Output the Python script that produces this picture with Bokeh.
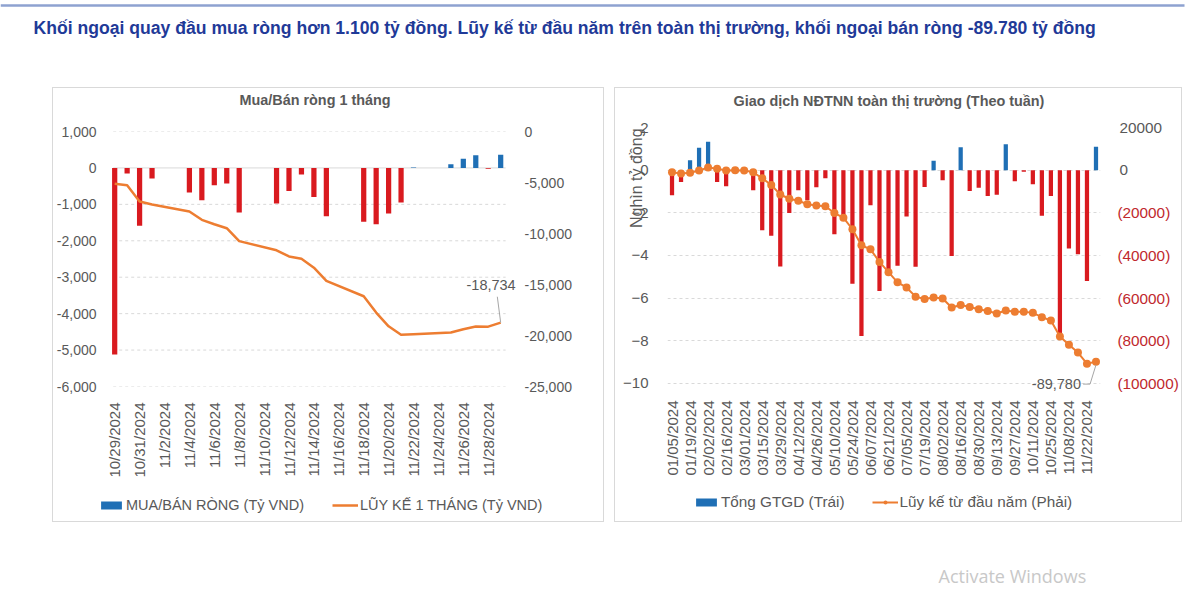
import math
import pandas as pd
from bokeh.plotting import figure
from bokeh.models import (ColumnDataSource, Range1d, LinearAxis, FixedTicker, NumeralTickFormatter,
                          CustomJSTickFormatter, Legend, LegendItem, Label, Spacer)
from bokeh.layouts import column, row
from bokeh.core.properties import value
from bokeh.embed import file_html
from bokeh.resources import INLINE

# ---------------- data ----------------
main_title = ("Khối ngoại quay đầu mua ròng hơn 1.100 tỷ đồng. Lũy kế từ đầu năm trên toàn thị trường, "
              "khối ngoại bán ròng -89.780 tỷ đồng")
watermark = "Activate Windows"

left_title = "Mua/Bán ròng 1 tháng"
left_dates = ["10/29/2024", "10/30/2024", "10/31/2024", "11/1/2024", "11/4/2024", "11/5/2024",
              "11/6/2024", "11/7/2024", "11/8/2024", "11/11/2024", "11/12/2024", "11/13/2024",
              "11/14/2024", "11/15/2024", "11/18/2024", "11/19/2024", "11/20/2024", "11/21/2024",
              "11/22/2024", "11/25/2024", "11/26/2024", "11/27/2024", "11/28/2024", "11/29/2024"]
left_net = [-5120, -150, -1590, -290, -675, -890, -475, -430, -1225, -975, -630, -180,
            -795, -1325, -1480, -1545, -1250, -950, 15, 100, 255, 345, -20, 365]
left_cum = [-5130, -5280, -6870, -7160, -7840, -8660, -9090, -9480, -10750, -11650, -12250, -12480,
            -13350, -14640, -16150, -17750, -19100, -19930, -19880, -19700, -19380, -19120, -19130, -18734]
left_ticks = ["10/29/2024", "10/31/2024", "11/2/2024", "11/4/2024", "11/6/2024", "11/8/2024",
              "11/10/2024", "11/12/2024", "11/14/2024", "11/16/2024", "11/18/2024", "11/20/2024",
              "11/22/2024", "11/24/2024", "11/26/2024", "11/28/2024"]
left_y_ticks = [1000, 0, -1000, -2000, -3000, -4000, -5000, -6000]
left_y2_ticks = [0, -5000, -10000, -15000, -20000, -25000]
left_legend = ["MUA/BÁN RÒNG (Tỷ VND)", "LŨY KẾ 1 THÁNG (Tỷ VND)"]

right_title = "Giao dịch NĐTNN toàn thị trường (Theo tuần)"
right_weeks = ["01/05/2024", "01/12/2024", "01/19/2024", "01/26/2024", "02/02/2024", "02/09/2024",
               "02/16/2024", "02/23/2024", "03/01/2024", "03/08/2024", "03/15/2024", "03/22/2024",
               "03/29/2024", "04/05/2024", "04/12/2024", "04/19/2024", "04/26/2024", "05/03/2024",
               "05/10/2024", "05/17/2024", "05/24/2024", "05/31/2024", "06/07/2024", "06/14/2024",
               "06/21/2024", "06/28/2024", "07/05/2024", "07/12/2024", "07/19/2024", "07/26/2024",
               "08/02/2024", "08/09/2024", "08/16/2024", "08/23/2024", "08/30/2024", "09/06/2024",
               "09/13/2024", "09/20/2024", "09/27/2024", "10/04/2024", "10/11/2024", "10/18/2024",
               "10/25/2024", "11/01/2024", "11/08/2024", "11/15/2024", "11/22/2024", "11/29/2024"]
right_net = [-1.18, -0.56, 0.47, 1.05, 1.33, -0.56, -0.75, 0.08, -0.05, -0.94, -2.82, -3.07,
             -4.52, -2.01, -0.94, -1.41, -0.80, -0.38, -3.00, -2.13, -5.33, -7.78, -1.65, -5.66,
             -4.63, -4.48, -2.17, -4.53, -0.79, 0.44, -0.47, -4.02, 1.07, -0.98, -0.83, -1.21,
             -1.15, 1.21, -0.52, -0.08, -0.66, -2.14, -1.21, -7.75, -3.67, -3.94, -5.20, 1.10]
right_cum = [-1000, -1600, -1200, -150, 1200, 700, -100, 0, -100, -1000, -3800, -6900,
             -11400, -13400, -14300, -16000, -16600, -16900, -20100, -22300, -27700, -35200, -37100, -43000,
             -47800, -52600, -55000, -59300, -60400, -59700, -60200, -64400, -63200, -64100, -65200, -66000,
             -67200, -65800, -66400, -66400, -66900, -68900, -70500, -78000, -81800, -85500, -90700, -89780]
right_ticks = right_weeks[::2]
right_y_ticks = [2, 0, -2, -4, -6, -8, -10]
right_y2_ticks = [20000, 0, -20000, -40000, -60000, -80000, -100000]
right_y_label = "Nghìn tỷ đồng"
right_legend = ["Tổng GTGD (Trái)", "Lũy kế từ đầu năm (Phải)"]

# ---------------- style ----------------
FONT = "Liberation Sans"
GREY = "#595959"
RED = "#D91A1F"
DARKRED = "#C0282D"
BLUE = "#1F6FB5"
ORANGE = "#ED7D31"
GRID = "#D9D9D9"
DAYMS = 86400000
BOX = {"border": "1px solid #D9D9D9"}

# chart boxes: widths and frame borders (all figures of one box share the borders)
W1, L_LEFT, L_RIGHT = 550, 42, 58
W2, R_LEFT, R_RIGHT = 566, 52, 78


def to_ms(ts):
    return ts.value / 1e6


def bare(width, height, xr=None, yr=None, bl=0, br=0):
    p = figure(width=width, height=height,
               x_range=xr if xr is not None else Range1d(0, width),
               y_range=yr if yr is not None else Range1d(height, 0),
               x_axis_location=None, y_axis_location=None, min_border=0,
               min_border_left=bl, min_border_right=br,
               output_backend="svg", toolbar_location=None)
    p.outline_line_color = None
    p.grid.grid_line_color = None
    return p


def style_axis(ax, size):
    ax.major_label_text_font = FONT
    ax.major_label_text_font_size = size
    ax.major_label_text_color = GREY
    ax.axis_line_color = None
    ax.major_tick_line_color = None
    ax.minor_tick_line_color = None


def title_fig(width, height, bl, br, text, cx, cy):
    t = bare(width, height, xr=Range1d(bl, width - br), bl=bl, br=br)
    t.text(x=[cx], y=[cy], text=[text], text_font=value(FONT), text_font_size="14.4px",
           text_font_style="bold", text_color=GREY, text_align="center", text_baseline="middle")
    return t


def make_legend(items, loc, spacing, size):
    return Legend(items=items, location=loc, orientation="horizontal", spacing=spacing,
                  padding=0, margin=0, glyph_width=26, glyph_height=10, label_height=16,
                  label_standoff=2, label_text_font=FONT, label_text_font_size=size,
                  label_text_color=GREY, border_line_color=None, background_fill_alpha=0)


# ---------------- header ----------------
ph = bare(1190, 87)
ph.line(x=[0, 1184], y=[5, 5], line_width=2.5, line_color="#8EA2D0")
ph.text(x=[33], y=[27], text=[main_title], text_font=value(FONT), text_font_size="17.6px",
        text_font_style="bold", text_color="#1F3A98", text_baseline="middle", text_align="left")

# ---------------- left chart ----------------
ld = pd.to_datetime(left_dates, format="%m/%d/%Y")
lsrc = ColumnDataSource(dict(x=ld, net=left_net, cum=left_cum,
                             color=[BLUE if v >= 0 else RED for v in left_net]))
lx0 = to_ms(ld[0]) - 1.3 * DAYMS
lx1 = to_ms(ld[-1]) + 3.6 * DAYMS
lgrid0 = to_ms(ld[0]) - 0.12 * DAYMS
lgrid1 = to_ms(ld[-1]) + 0.4 * DAYMS
p1 = figure(width=W1, height=368, x_axis_type="datetime",
            x_range=Range1d(lx0, lx1), y_range=Range1d(-6000, 1000),
            min_border_left=L_LEFT, min_border_right=L_RIGHT, min_border_top=10, min_border_bottom=103,
            output_backend="svg", toolbar_location=None)
p1.outline_line_color = None
p1.extra_y_ranges = {"cum": Range1d(-25000, 0)}
p1.grid.grid_line_color = None

gy = [t for t in left_y_ticks if t != 0]
p1.segment(x0=[lgrid0] * len(gy), x1=[lgrid1] * len(gy), y0=gy, y1=gy,
           line_color=GRID, line_width=1, line_dash="3 3")
p1.segment(x0=[lgrid0], x1=[lgrid1], y0=[0], y1=[0], line_color=GRID, line_width=1)

p1.yaxis.ticker = FixedTicker(ticks=left_y_ticks)
p1.yaxis.formatter = NumeralTickFormatter(format="0,0")
p1.yaxis.major_label_standoff = -4
style_axis(p1.yaxis[0], "14px")

ax1r = LinearAxis(y_range_name="cum", ticker=FixedTicker(ticks=left_y2_ticks),
                  formatter=NumeralTickFormatter(format="0,0"), major_label_standoff=-27)
style_axis(ax1r, "14px")
p1.add_layout(ax1r, "right")

p1.xaxis.ticker = FixedTicker(ticks=[to_ms(t) for t in pd.to_datetime(left_ticks, format="%m/%d/%Y")])
p1.xaxis.formatter = CustomJSTickFormatter(code="""
const d = new Date(tick);
return (d.getUTCMonth() + 1) + "/" + d.getUTCDate() + "/" + d.getUTCFullYear();
""")
p1.xaxis.major_label_orientation = math.pi / 2
p1.xaxis.major_label_standoff = 10
style_axis(p1.xaxis[0], "15px")

p1.vbar(x="x", top="net", bottom=0, width=0.42 * DAYMS, fill_color="color",
        line_color=None, source=lsrc)
p1.line(x="x", y="cum", line_color=ORANGE, line_width=2.5, line_join="round",
        y_range_name="cum", source=lsrc)

last_x = to_ms(ld[-1])
p1.line(x=[last_x - 0.27 * DAYMS, last_x], y=[-16200, left_cum[-1]], line_color="#A6A6A6",
        line_width=1, y_range_name="cum")
p1.add_layout(Label(x=last_x, y=-15000, y_range_name="cum", x_offset=15, text=f"{left_cum[-1]:,}",
                    text_align="right", text_baseline="middle", text_font=FONT,
                    text_font_size="14.5px", text_color=GREY))

# legend strip (same series, drawn off-range so only the legend shows)
lg1 = bare(W1, 32, xr=Range1d(lx0, lx1), yr=Range1d(1e9, 1e9 + 1), bl=L_LEFT, br=L_RIGHT)
lb = lg1.vbar(x="x", top="net", bottom=0, width=0.42 * DAYMS, fill_color="color", line_color=None, source=lsrc)
ll = lg1.line(x="x", y="cum", line_color=ORANGE, line_width=2.5, source=lsrc)
lg1.add_layout(make_legend([LegendItem(label=left_legend[0], renderers=[lb], index=18),
                            LegendItem(label=left_legend[1], renderers=[ll])], (0, 8), 28, "14.5px"))

box1 = column(title_fig(W1, 33, L_LEFT, L_RIGHT, left_title, 260, 11), p1, lg1, styles=BOX)

# ---------------- right chart ----------------
wd = pd.to_datetime(right_weeks, format="%m/%d/%Y")
rsrc = ColumnDataSource(dict(x=wd, net=right_net, cum=right_cum,
                             color=[BLUE if v >= 0 else RED for v in right_net]))
rx0 = to_ms(wd[0]) - 3.5 * DAYMS
rx1 = to_ms(wd[-1]) + 3.5 * DAYMS
p2 = figure(width=W2, height=368, x_axis_type="datetime",
            x_range=Range1d(rx0, rx1), y_range=Range1d(-10.47, 2),
            min_border_left=R_LEFT, min_border_right=R_RIGHT, min_border_top=10, min_border_bottom=92,
            output_backend="svg", toolbar_location=None)
p2.outline_line_color = None
p2.extra_y_ranges = {"cum": Range1d(-104700, 20000)}

p2.xgrid.grid_line_color = None
p2.ygrid.ticker = FixedTicker(ticks=right_y_ticks)
p2.ygrid.grid_line_color = GRID
p2.ygrid.grid_line_dash = "3 3"
p2.yaxis.ticker = FixedTicker(ticks=right_y_ticks)
p2.yaxis.major_label_standoff = 13
style_axis(p2.yaxis[0], "15px")
p2.yaxis.axis_label = "\u00a0" * 37 + right_y_label
p2.yaxis.axis_label_text_font = FONT
p2.yaxis.axis_label_text_font_size = "16px"
p2.yaxis.axis_label_text_font_style = "normal"
p2.yaxis.axis_label_text_color = GREY
p2.yaxis.axis_label_standoff = -25

ax2r = LinearAxis(y_range_name="cum", ticker=FixedTicker(ticks=[t for t in right_y2_ticks if t >= 0]),
                  major_label_standoff=13)
style_axis(ax2r, "15.3px")
p2.add_layout(ax2r, "right")
ax2n = LinearAxis(y_range_name="cum", ticker=FixedTicker(ticks=[t for t in right_y2_ticks if t < 0]),
                  major_label_standoff=-54,
                  formatter=CustomJSTickFormatter(code='return "(" + Math.abs(tick) + ")";'))
style_axis(ax2n, "15.3px")
ax2n.major_label_text_color = DARKRED
p2.add_layout(ax2n, "right")

p2.xaxis.ticker = FixedTicker(ticks=[to_ms(t) for t in pd.to_datetime(right_ticks, format="%m/%d/%Y")])
p2.xaxis.formatter = CustomJSTickFormatter(code="""
const d = new Date(tick);
const m = String(d.getUTCMonth() + 1).padStart(2, "0");
const dd = String(d.getUTCDate()).padStart(2, "0");
return m + "/" + dd + "/" + d.getUTCFullYear();
""")
p2.xaxis.major_label_orientation = math.pi / 2
p2.xaxis.major_label_standoff = 1
style_axis(p2.xaxis[0], "15px")

p2.vbar(x="x", top="net", bottom=0, width=0.47 * 7 * DAYMS, fill_color="color",
        line_color=None, source=rsrc)
p2.line(x="x", y="cum", line_color=ORANGE, line_width=2, y_range_name="cum", source=rsrc)
p2.scatter(x="x", y="cum", size=8, fill_color=ORANGE, line_color=None,
           y_range_name="cum", source=rsrc)

wl = to_ms(wd[-1])
p2.line(x=[wl - 10 * DAYMS, wl - 4.6 * DAYMS, wl], y=[-100300, -100300, right_cum[-1] - 1500],
        line_color="#A6A6A6", line_width=1, y_range_name="cum")
p2.add_layout(Label(x=wl, y=-100400, y_range_name="cum", x_offset=-15, text=f"{right_cum[-1]:,}",
                    text_align="right", text_baseline="middle", text_font=FONT,
                    text_font_size="14.5px", text_color=GREY))

lg2 = bare(W2, 36, xr=Range1d(rx0, rx1), yr=Range1d(1e9, 1e9 + 1), bl=R_LEFT, br=R_RIGHT)
rb = lg2.vbar(x="x", top="net", bottom=0, width=0.47 * 7 * DAYMS, fill_color="color", line_color=None, source=rsrc)
rl = lg2.line(x="x", y="cum", line_color=ORANGE, line_width=2, source=rsrc)
rd = lg2.scatter(x="x", y="cum", size=8, fill_color=ORANGE, line_color=None, source=rsrc)
lg2.add_layout(make_legend([LegendItem(label=right_legend[0], renderers=[rb], index=2),
                            LegendItem(label=right_legend[1], renderers=[rl, rd])], (26, 10), 27, "15.3px"))

box2 = column(title_fig(W2, 29, R_LEFT, R_RIGHT, right_title, 275, 12), p2, lg2, styles=BOX)

# ---------------- footer ----------------
pf = bare(1190, 66)
pf.text(x=[938], y=[53], text=[watermark], text_font=value("Open Sans"), text_font_size="18px",
        text_color="#C8C8C8", text_baseline="middle", text_align="left")

layout = column(ph, row(Spacer(width=52, height=433), box1, Spacer(width=10, height=433), box2), pf)
open("out.html", "w").write(file_html(layout, INLINE))
